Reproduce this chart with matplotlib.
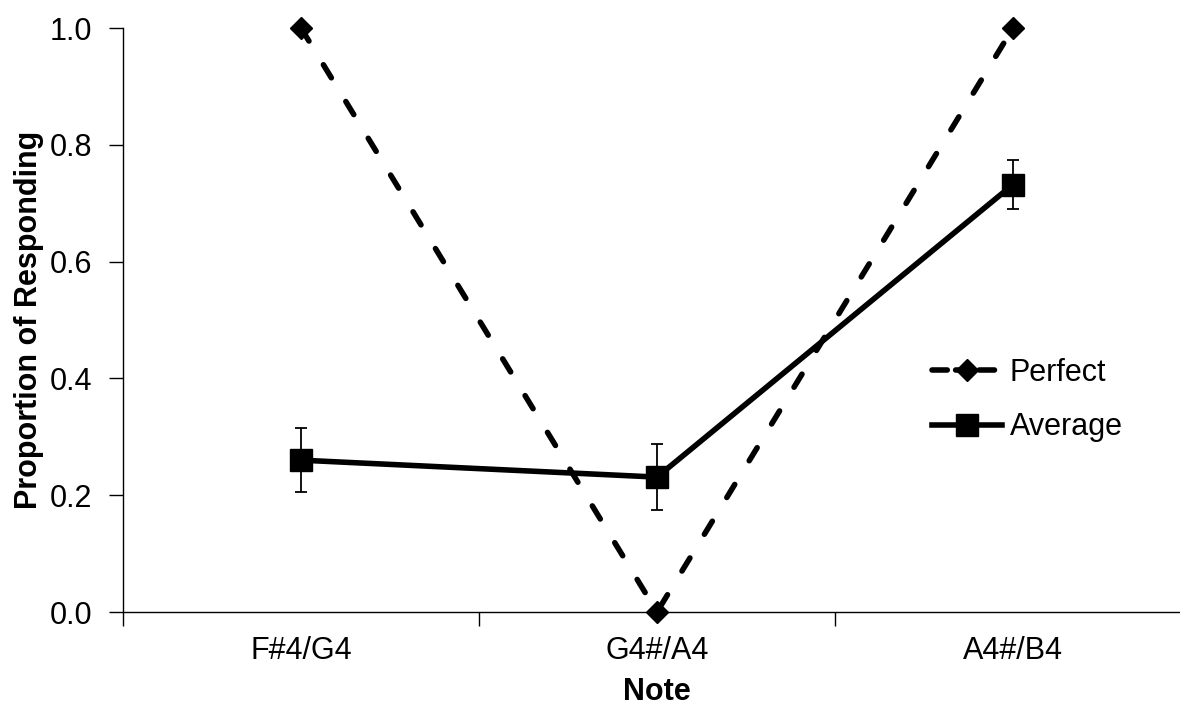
import matplotlib
matplotlib.use("Agg")
import matplotlib.pyplot as plt
from matplotlib.lines import Line2D
import numpy as np

categories = ["F#4/G4", "G4#/A4", "A4#/B4"]
perfect = [1.0, 0.0, 1.0]
average = [0.260, 0.231, 0.732]
average_err = [0.055, 0.056, 0.042]
yticks = [0.0, 0.2, 0.4, 0.6, 0.8, 1.0]

plt.rcParams['font.family'] = ['Liberation Sans', 'DejaVu Sans']

fig = plt.figure(figsize=(11.8, 7.07), dpi=100)
ax = fig.add_axes([123/1180, 95/707, (1191-123)/1180, (612-28)/707])

x = np.arange(len(categories)) + 0.5
p_line, = ax.plot(x, perfect, color='black', lw=4, dashes=(2.75, 5), dash_capstyle='round',
                  marker='D', markersize=11, label='Perfect', clip_on=False, zorder=3)
ax.errorbar(x, average, yerr=average_err, color='black', lw=4, marker='s', markersize=16,
            ecolor='black', elinewidth=1.3, capsize=4, capthick=1.3,
            clip_on=False, zorder=4)

ax.set_xlim(0, 3)
ax.set_ylim(0, 1.0)
ax.set_xticks([0, 1, 2, 3])
ax.set_xticklabels([])
ax.set_xticks(x, minor=True)
ax.set_xticklabels(categories, minor=True)
ax.tick_params(axis='x', which='minor', length=0, pad=17, labelsize=22)
ax.tick_params(axis='x', which='major', length=10, width=1, direction='out')
ax.set_yticks(yticks)
ax.set_yticklabels([f"{v:.1f}" for v in yticks])
ax.tick_params(axis='y', length=10, width=1, direction='out', labelsize=22, pad=12)

for s in ['top', 'right']:
    ax.spines[s].set_visible(False)
ax.spines['left'].set_linewidth(1)
ax.spines['bottom'].set_linewidth(1)

ax.set_xlabel("Note", fontsize=22, fontweight='bold', labelpad=8)
ax.set_ylabel("Proportion of Responding", fontsize=22, fontweight='bold', labelpad=4)

h_perfect = Line2D([], [], color='black', lw=4, dashes=(2.75, 1.5), dash_capstyle='round',
                   marker='D', markersize=11)
h_average = Line2D([], [], color='black', lw=4, marker='s', markersize=16)
leg = ax.legend([h_perfect, h_average], ['Perfect', 'Average'],
                loc='center left', bbox_to_anchor=(932/1180, 1 - 400/707),
                bbox_transform=fig.transFigure, borderaxespad=0, borderpad=0,
                frameon=False, fontsize=22, handlelength=2.3, handletextpad=0.25,
                labelspacing=0.8)

fig.savefig("out.png", dpi=100)
